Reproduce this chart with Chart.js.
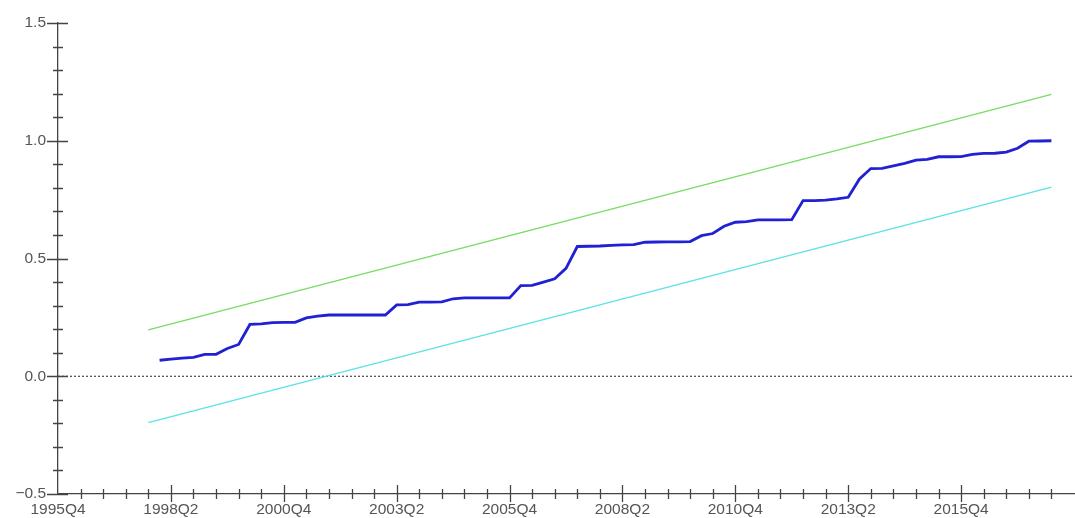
<!DOCTYPE html>
<html>
<head>
<meta charset="utf-8">
<script src="https://cdn.jsdelivr.net/npm/chart.js@4"></script>
<style>
  html, body { margin: 0; padding: 0; background: #fff; }
  #wrap { width: 1075px; height: 518px; }
</style>
</head>
<body>
<div id="wrap"><canvas id="cusumChart"></canvas></div>
<script>
// quarter labels shown on the x axis (every 10 quarters)
const xTickLabels = ['1995Q4', '1998Q2', '2000Q4', '2003Q2', '2005Q4', '2008Q2', '2010Q4', '2013Q2', '2015Q4'];
const yTickLabels = ['-0.5', '0.0', '0.5', '1.0', '1.5'];

// CUSUM of squares, quarterly from 1998Q1 to 2017Q4
const cusumStart = '1998Q1';
const cusumSq = [
  0.068, 0.073, 0.077, 0.080, 0.093, 0.093, 0.118, 0.135, 0.220, 0.222,
  0.228, 0.229, 0.229, 0.248, 0.255, 0.260, 0.260, 0.260, 0.260, 0.260,
  0.260, 0.303, 0.304, 0.315, 0.315, 0.316, 0.329, 0.333, 0.333, 0.333,
  0.333, 0.333, 0.385, 0.386, 0.400, 0.414, 0.458, 0.551, 0.552, 0.553,
  0.556, 0.558, 0.559, 0.569, 0.570, 0.571, 0.571, 0.572, 0.597, 0.606,
  0.637, 0.654, 0.657, 0.664, 0.664, 0.664, 0.665, 0.746, 0.746, 0.748,
  0.753, 0.760, 0.838, 0.882, 0.883, 0.893, 0.904, 0.918, 0.921, 0.932,
  0.932, 0.933, 0.942, 0.946, 0.947, 0.952, 0.968, 0.998, 0.999, 1.000
];

// 5% significance bounds (straight lines), endpoints
const boundQuarters = ['1997Q4', '2017Q4'];
const upperBound = [0.197, 1.197];
const lowerBound = [-0.197, 0.803];

// quarters since 1995Q4
function qIndex(q) {
  const y = parseInt(q.slice(0, 4), 10);
  const n = parseInt(q.slice(5), 10);
  return (y - 1995) * 4 + (n - 4);
}

const s0 = qIndex(cusumStart);
const cusumPts = cusumSq.map((v, i) => ({ x: s0 + i, y: v }));
const upperPts = boundQuarters.map((q, i) => ({ x: qIndex(q), y: upperBound[i] }));
const lowerPts = boundQuarters.map((q, i) => ({ x: qIndex(q), y: lowerBound[i] }));

const axisColor = '#444';
const labelColor = '#555';

// zero line + EViews-style major/minor tick marks
const axisTicks = {
  id: 'axisTicks',
  beforeDatasetsDraw(chart) {
    const { ctx, chartArea, scales } = chart;
    const y0 = scales.y.getPixelForValue(0);
    ctx.save();
    ctx.strokeStyle = '#222';
    ctx.lineWidth = 1;
    ctx.setLineDash([2, 2]);
    ctx.beginPath();
    ctx.moveTo(chartArea.left, y0);
    ctx.lineTo(chartArea.right, y0);
    ctx.stroke();
    ctx.restore();
  },
  afterDraw(chart) {
    const { ctx, chartArea, scales } = chart;
    ctx.save();
    ctx.strokeStyle = axisColor;
    ctx.lineWidth = 1.3;
    ctx.beginPath();
    // y ticks every 0.1, major every 0.5
    for (let k = -5; k <= 15; k++) {
      const py = Math.round(scales.y.getPixelForValue(k / 10)) + 0.5;
      const major = k % 5 === 0;
      ctx.moveTo(chartArea.left - (major ? 11 : 5), py);
      ctx.lineTo(chartArea.left + (major ? 10 : 5), py);
    }
    // x ticks every 2 quarters, major every 10
    for (let q = 2; q <= 88; q += 2) {
      const px = Math.round(scales.x.getPixelForValue(q)) + 0.5;
      const major = q % 10 === 0;
      ctx.moveTo(px, chartArea.bottom - (major ? 9 : 5));
      ctx.lineTo(px, chartArea.bottom + (major ? 8 : 5));
    }
    ctx.stroke();
    ctx.restore();
  }
};

const ctx = document.getElementById('cusumChart');
new Chart(ctx, {
  type: 'line',
  data: {
    datasets: [
      {
        label: 'CUSUM of Squares',
        data: cusumPts,
        borderColor: '#2020d4',
        borderWidth: 2.8,
        pointRadius: 0,
        tension: 0
      },
      {
        label: 'Upper 5%',
        data: upperPts,
        borderColor: '#78dc64',
        borderWidth: 1.5,
        pointRadius: 0
      },
      {
        label: 'Lower 5%',
        data: lowerPts,
        borderColor: '#5ee2e2',
        borderWidth: 1.5,
        pointRadius: 0
      }
    ]
  },
  options: {
    responsive: true,
    maintainAspectRatio: false,
    animation: false,
    layout: { padding: { top: 23, right: 1, left: 0, bottom: 0 } },
    plugins: {
      legend: { display: false },
      tooltip: { enabled: false }
    },
    scales: {
      x: {
        type: 'linear',
        min: 0,
        max: 90,
        afterFit: s => { s.height = 24; },
        afterBuildTicks: s => {
          s.ticks = xTickLabels.map((_, i) => ({ value: i * 10 }));
        },
        grid: { display: true, drawOnChartArea: false, drawTicks: false },
        border: { display: true, color: axisColor, width: 1.3 },
        ticks: {
          autoSkip: false,
          maxRotation: 0,
          padding: 6,
          color: labelColor,
          font: { family: 'Liberation Sans', size: 15.5 },
          callback: v => xTickLabels[Math.round(v / 10)]
        }
      },
      y: {
        min: -0.5,
        max: 1.5,
        afterFit: s => { s.width = 58; },
        afterBuildTicks: s => {
          s.ticks = yTickLabels.map(t => ({ value: parseFloat(t) }));
        },
        grid: { display: true, drawOnChartArea: false, drawTicks: false },
        border: { display: true, color: axisColor, width: 1.3 },
        ticks: {
          padding: 12,
          color: labelColor,
          font: { family: 'Liberation Sans', size: 15.5 },
          callback: v => yTickLabels.find(t => parseFloat(t) === v).replace('-', '\u2212')
        }
      }
    }
  },
  plugins: [axisTicks]
});
</script>
</body>
</html>
